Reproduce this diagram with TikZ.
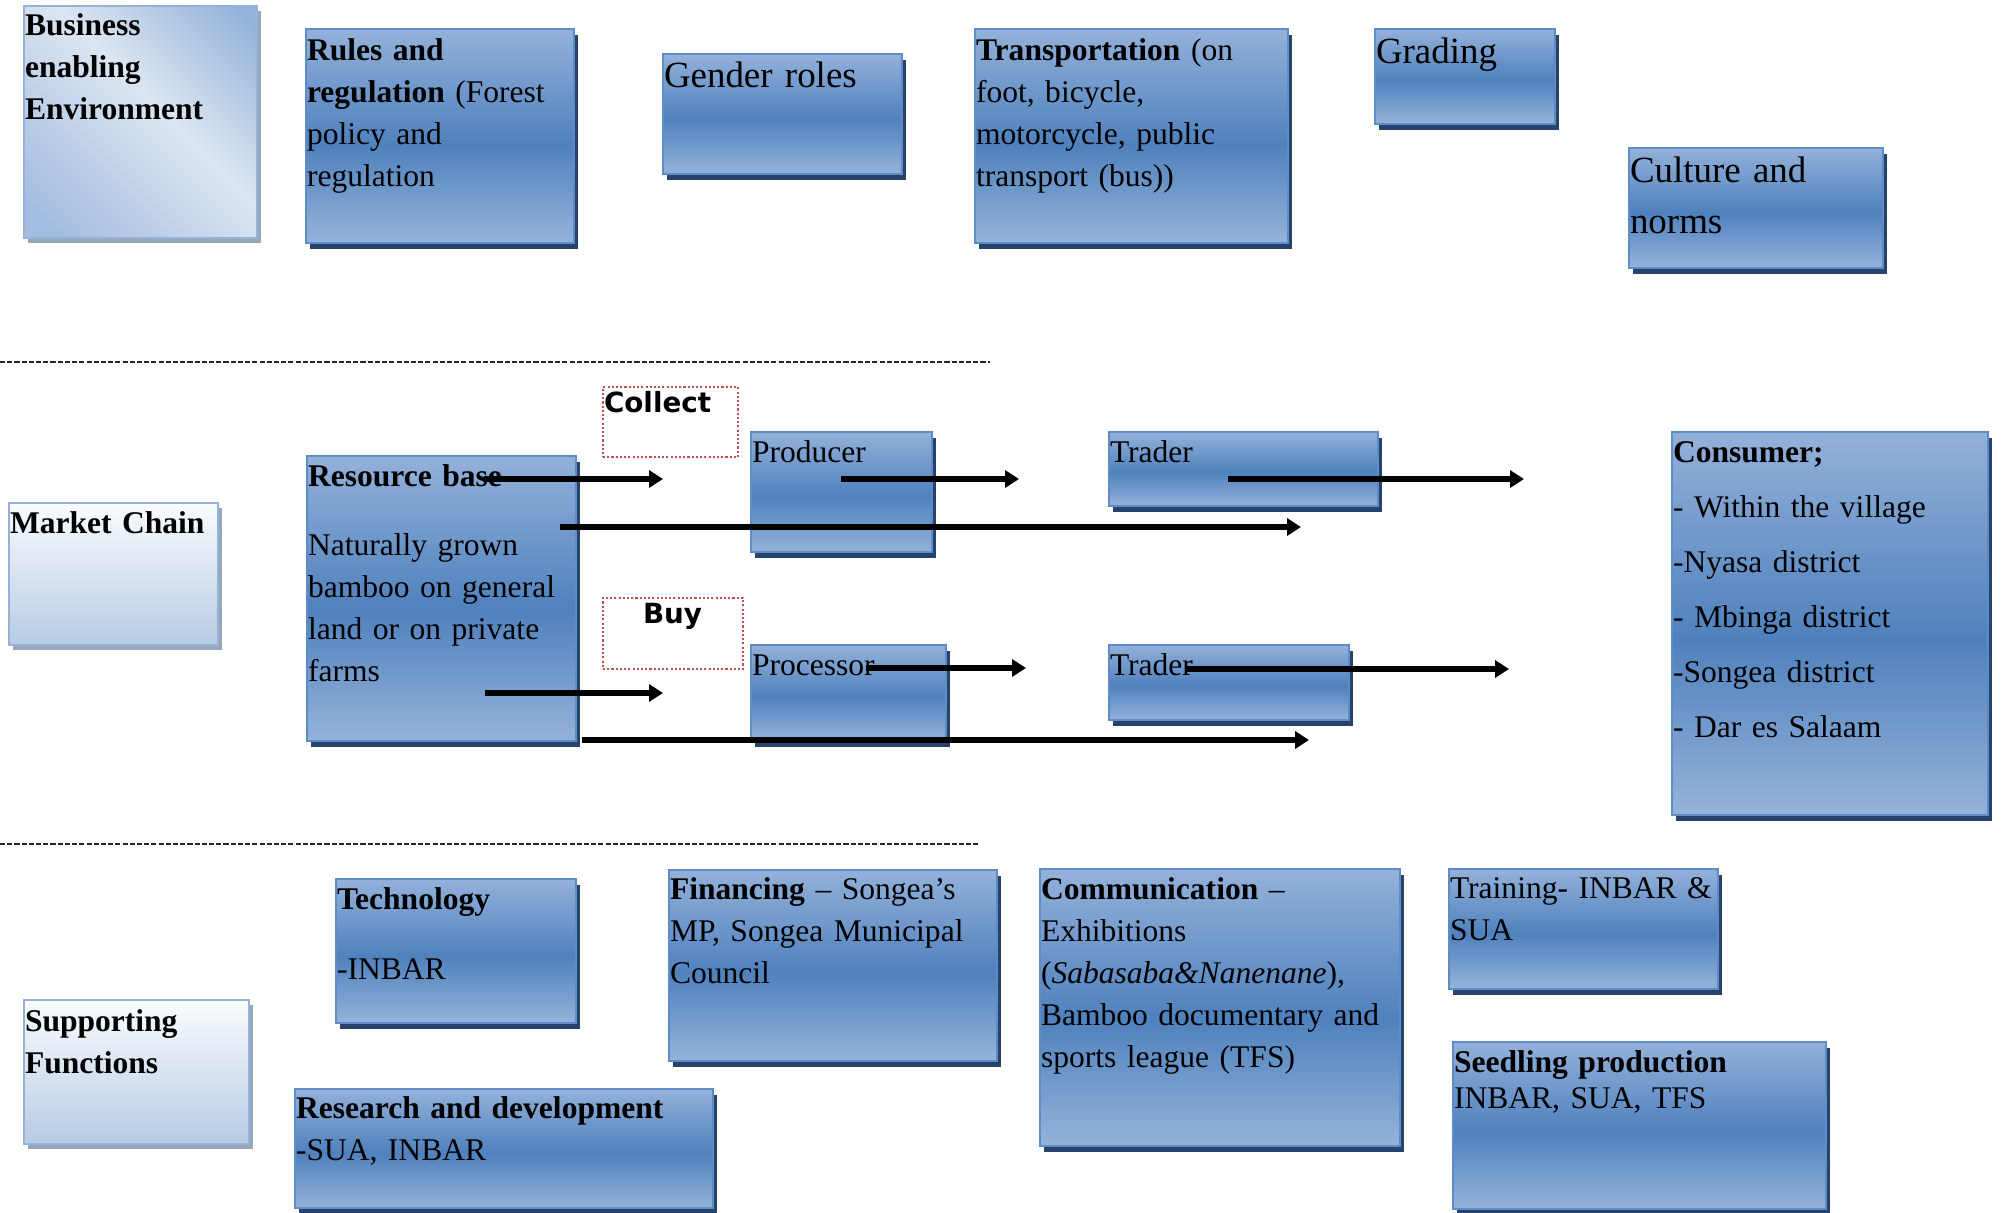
\documentclass[tikz,border=0pt]{standalone}
\usepackage{fontspec}
\setmainfont{Liberation Serif}
\newfontfamily\dvsans{DejaVu Sans}
\usetikzlibrary{arrows.meta,shadows}

\definecolor{btop}{HTML}{93B1DA}
\definecolor{bmid}{HTML}{4F81BD}
\definecolor{bbot}{HTML}{95B3DA}
\definecolor{bborder}{HTML}{5D8CC8}
\definecolor{bshadow}{HTML}{26446B}
\definecolor{lborder}{HTML}{95B3D7}
\definecolor{lshadow}{HTML}{97A6BA}
\definecolor{lbot}{HTML}{B7CBE4}
\definecolor{lwhite}{HTML}{FAFCFE}
\definecolor{dbl}{HTML}{A3BCDF}
\definecolor{dmid}{HTML}{DCE6F2}
\definecolor{dtr}{HTML}{95B3D9}
\definecolor{redline}{HTML}{C0504D}

\pgfdeclareverticalshading{bluesh}{100bp}{color(0bp)=(bbot); color(25bp)=(bbot); color(48bp)=(bmid); color(75bp)=(btop); color(100bp)=(btop)}
\pgfdeclareverticalshading{lightsh}{100bp}{color(0bp)=(lbot); color(25bp)=(lbot); color(75bp)=(lwhite); color(100bp)=(lwhite)}
\pgfdeclarehorizontalshading{diagsh}{100bp}{color(0bp)=(dbl); color(20bp)=(dbl); color(55bp)=(dmid); color(82bp)=(dtr); color(100bp)=(dtr)}

\newcommand\placebox[6]{%
  \node[#1, anchor=north west, minimum width={(#5-#3)*0.01cm}, minimum height={(#6-#4)*0.01cm}] (#2) at (#3,#4) {};}

\tikzset{
  bluebox/.style={draw=bborder, line width=0.6pt, shading=bluesh, inner sep=0pt, outer sep=0pt,
    drop shadow={shadow xshift=0.04cm, shadow yshift=-0.06cm, fill=bshadow, opacity=1, draw=none}},
  lightbox/.style={draw=lborder, line width=0.6pt, shading=lightsh, inner sep=0pt, outer sep=0pt,
    drop shadow={shadow xshift=0.035cm, shadow yshift=-0.05cm, fill=lshadow, opacity=1, draw=none}},
  diagbox/.style={draw=lborder, line width=0.6pt, shading=diagsh, shading angle=45, inner sep=0pt, outer sep=0pt,
    drop shadow={shadow xshift=0.035cm, shadow yshift=-0.05cm, fill=lshadow, opacity=1, draw=none}},
  redbox/.style={draw=redline, line width=0.55pt, dash pattern=on 0.6pt off 0.6pt, inner sep=0pt, outer sep=0pt},
  txt/.style={anchor=base west, inner sep=0pt, outer sep=0pt, text width=#1, align=left,
    font=\fontsize{8.97pt}{11.95pt}\selectfont},
  bigtxt/.style={anchor=base west, inner sep=0pt, outer sep=0pt, text width=#1, align=left,
    font=\fontsize{10.5pt}{14.2pt}\selectfont},
  sanstxt/.style={anchor=base west, inner sep=0pt, outer sep=0pt,
    font=\dvsans\bfseries\fontsize{7.9pt}{9pt}\selectfont},
  arr/.style={line width=1.45pt, -{Triangle[length=0.14cm, width=0.17cm]}},
  divider/.style={line width=0.55pt, draw=black!85, dash pattern=on 1.45pt off 0.6pt},
}

\begin{document}
\begin{tikzpicture}[x=0.01cm, y=-0.01cm]
\useasboundingbox (0,0) rectangle (2004,1212);

% ---------- top row: business enabling environment ----------
\placebox{diagbox}{biz}{24}{6}{257}{238}
\placebox{bluebox}{rules}{306}{29}{574}{243}
\placebox{bluebox}{gender}{663}{54}{902}{174}
\placebox{bluebox}{transp}{975}{29}{1288}{243}
\placebox{bluebox}{grading}{1375}{29}{1555}{124}
\placebox{bluebox}{culture}{1629}{148}{1883}{268}

\node[txt=6cm] (bizT) at (25,35) {\textbf{Business}\\\textbf{enabling}\\\textbf{Environment}};
\node[txt=6cm] (rulesT) at (307,60) {\textbf{Rules and}\\\textbf{regulation} (Forest\\policy and\\regulation};
\node[bigtxt=6cm] (genderT) at (664,87) {Gender roles};
\node[txt=6cm] (transpT) at (976,60) {\textbf{Transportation} (on\\foot, bicycle,\\motorcycle, public\\transport (bus))};
\node[bigtxt=6cm] (gradingT) at (1376,64) {Grading};
\node[bigtxt=6cm] (cultureT) at (1630,182) {Culture and\\[0.02cm]norms};

% dividers
\coordinate (d1a) at (0,362);
\coordinate (d1b) at (990,362);
\coordinate (d2a) at (0,844);
\coordinate (d2b) at (980,844);
\draw[divider] (d1a) -- (d1b);
\draw[divider] (d2a) -- (d2b);

% ---------- middle row: market chain ----------
\placebox{lightbox}{market}{9}{503}{218}{645}
\placebox{redbox}{collect}{603}{387}{738}{457}
\placebox{bluebox}{resource}{307}{456}{576}{741}
\placebox{bluebox}{producer}{751}{432}{932}{552}
\placebox{redbox}{buy}{603}{598}{743}{669}
\placebox{bluebox}{processor}{751}{645}{946}{741}
\placebox{bluebox}{traderA}{1109}{432}{1378}{506}
\placebox{bluebox}{traderB}{1109}{645}{1349}{720}
\placebox{bluebox}{consumer}{1672}{432}{1988}{815}

\node[txt=6cm] (marketT) at (10,533) {\textbf{Market Chain}};
\node[sanstxt] (collectT) at (604,412) {Collect};
\node[sanstxt] (buyT) at (643,623) {Buy};
\node[txt=6cm] (resourceT) at (308,486) {\textbf{Resource base}\\[0.27cm]Naturally grown\\bamboo on general\\land or on private\\farms};
\node[txt=6cm] (producerT) at (752,462) {Producer};
\node[txt=6cm] (processorT) at (752,675) {Processor};
\node[txt=6cm] (traderAT) at (1110,462) {Trader};
\node[txt=6cm] (traderBT) at (1110,675) {Trader};
\node[txt=6cm] (consumerT) at (1673,462) {\textbf{Consumer;}\\[0.13cm]- Within the village\\[0.13cm]-Nyasa district\\[0.13cm]- Mbinga district\\[0.13cm]-Songea district\\[0.13cm]- Dar es Salaam};

% ---------- bottom row: supporting functions ----------
\placebox{bluebox}{tech}{336}{879}{576}{1023}
\placebox{bluebox}{fin}{669}{870}{997}{1061}
\placebox{bluebox}{comm}{1040}{869}{1400}{1146}
\placebox{bluebox}{train}{1449}{869}{1718}{989}
\placebox{lightbox}{support}{24}{1000}{249}{1144}
\placebox{bluebox}{research}{295}{1089}{713}{1208}
\placebox{bluebox}{seed}{1453}{1042}{1826}{1209}

\node[txt=6cm] (techT) at (337,909) {\textbf{Technology}\\[0.28cm]-INBAR};
\node[txt=6cm] (finT) at (670,899) {\textbf{Financing} – Songea’s\\MP, Songea Municipal\\Council};
\node[txt=6cm] (commT) at (1041,899) {\textbf{Communication} –\\Exhibitions\\(\textit{Sabasaba\&Nanenane}),\\Bamboo documentary and\\sports league (TFS)};
\node[txt=6cm] (trainT) at (1450,898) {Training- INBAR \&\\SUA};
\node[txt=6cm] (supportT) at (25,1031) {\textbf{Supporting}\\\textbf{Functions}};
\node[txt=6cm] (researchT) at (296,1118) {\textbf{Research and development}\\-SUA, INBAR};
\node[txt=6cm] (seedT) at (1454,1072) {\textbf{Seedling production}\\[-0.06cm]INBAR, SUA, TFS};

% ---------- arrows ----------
\coordinate (a1s) at (484,479);  \coordinate (a1e) at (663,479);
\coordinate (a2s) at (841,479);  \coordinate (a2e) at (1019,479);
\coordinate (a3s) at (1228,479); \coordinate (a3e) at (1524,479);
\coordinate (a4s) at (560,527);  \coordinate (a4e) at (1301,527);
\coordinate (a5s) at (485,693);  \coordinate (a5e) at (663,693);
\coordinate (a6s) at (866,668);  \coordinate (a6e) at (1026,668);
\coordinate (a7s) at (1186,669); \coordinate (a7e) at (1509,669);
\coordinate (a8s) at (582,740);  \coordinate (a8e) at (1309,740);
\draw[arr] (a1s) -- (a1e);
\draw[arr] (a2s) -- (a2e);
\draw[arr] (a3s) -- (a3e);
\draw[arr] (a4s) -- (a4e);
\draw[arr] (a5s) -- (a5e);
\draw[arr] (a6s) -- (a6e);
\draw[arr] (a7s) -- (a7e);
\draw[arr] (a8s) -- (a8e);
\end{tikzpicture}
\end{document}
